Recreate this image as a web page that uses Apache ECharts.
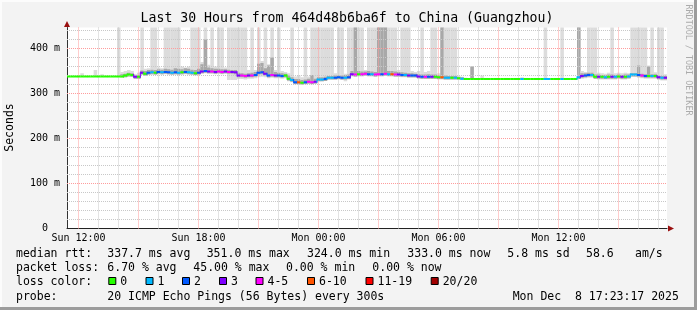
<!DOCTYPE html>
<html><head><meta charset="utf-8">
<script src="https://cdn.jsdelivr.net/npm/echarts@6/dist/echarts.min.js"></script>
<style>html,body{margin:0;padding:0;background:#f3f3f3;}#c{width:697px;height:310px;}</style>
</head><body><div id="c"></div>
<script>
// ---- data (10-minute bins, 30 hours, starting Sun 11:25) ----
const startHour = 11.425;       // hours since Sun 00:00
const binHours = 1 / 6;
const med = [
 338,338,338,338,338,338,338,338,338,338,
 338,338,338,338,338,338,338,340,342,341,
 337,337,346,344,346,347,346,348,347,348,
 347,346,347,346,347,348,347,346,345,346,
 349,350,349,349,348,349,348,349,348,348,
 347,340,340,339,340,340,341,346,347,344,
 340,341,340,340,339,340,333,330,325,325,
 324,325,326,325,326,331,331,332,335,335,
 335,336,335,335,336,343,342,343,343,344,
 343,343,342,343,343,344,343,343,342,342,
 341,341,340,340,340,338,337,337,337,337,
 337,336,336,335,335,335,335,334,333,332,
 332,332,332,332,332,332,332,332,332,332,
 332,332,332,332,332,332,332,332,332,332,
 332,332,332,332,332,332,332,332,332,332,
 332,332,332,336,339,340,341,341,337,337,
 337,336,337,337,337,338,337,337,338,342,
 342,341,340,339,339,339,339,336,335,335];
const loss = [
 0,0,0,0,0,0,0,0,0,0,
 0,0,0,0,0,0,0,0,0,0,
 3,0,3,0,2,1,0,2,1,2,
 2,1,2,1,0,2,1,1,0,2,
 3,2,3,4,3,4,4,3,4,3,
 3,3,4,4,3,4,2,2,2,3,
 2,4,3,2,2,0,0,1,2,5,
 0,2,4,4,3,1,1,2,1,1,
 2,2,2,1,2,3,4,0,4,4,
 2,1,4,4,2,4,1,5,4,3,
 2,1,3,2,2,3,2,4,2,3,
 0,0,5,1,1,0,1,0,1,0,
 0,0,0,0,0,0,0,0,0,0,
 0,0,0,0,0,0,1,0,0,0,
 0,0,0,1,1,0,0,0,1,0,
 0,0,0,1,3,2,2,1,0,3,
 0,1,0,3,1,0,3,0,1,1,
 1,2,4,2,0,1,0,3,1,3];
const smokeLo = [
 338,338,338,338,338,338,338,338,338,338,
 338,338,338,338,338,338,336,336,338,337,
 333,333,341,339,341,342,341,343,342,343,
 342,341,342,341,342,343,342,341,340,341,
 344,345,344,344,343,344,343,344,330,330,
 330,332,332,331,333,333,334,336,337,336,
 334,335,334,334,333,334,327,325,320,320,
 319,320,321,320,321,327,327,328,331,331,
 331,331,330,327,331,338,337,338,338,339,
 338,338,337,338,338,339,338,338,337,337,
 336,336,335,335,335,333,332,332,332,332,
 332,331,331,331,331,331,331,331,330,330,
 332,332,332,332,332,332,332,332,332,332,
 332,332,332,332,332,332,332,332,332,332,
 332,332,332,332,332,332,332,332,332,332,
 332,332,332,332,333,334,335,335,332,331,
 331,331,331,331,331,332,331,331,332,337,
 337,335,334,333,333,333,333,330,329,329];
const smokeDark = [
 338,338,338,338,338,338,338,338,338,338,
 338,338,338,338,338,338,343,344,346,345,
 340,341,351,350,352,353,352,354,353,355,
 354,353,356,355,354,356,355,353,352,355,
 365,420,358,356,355,355,354,354,353,352,
 352,346,345,344,345,346,348,366,368,356,
 362,380,348,346,345,344,340,336,332,332,
 330,331,333,341,333,336,336,337,339,339,
 340,341,340,341,342,350,460,350,349,349,
 350,349,348,460,460,460,350,350,349,348,
 347,346,345,345,344,343,342,342,343,342,
 342,341,460,340,339,339,339,337,336,334,
 332,360,332,332,332,332,332,332,332,332,
 332,332,332,332,332,332,332,332,332,332,
 332,332,332,332,332,332,332,332,332,332,
 332,332,332,460,345,345,346,346,342,342,
 341,341,342,342,341,342,341,342,342,345,
 345,362,344,343,360,343,343,340,339,339];
const smokeHi = [
 338,338,338,338,345,338,338,338,352,338,
 343,338,338,338,338,460,348,350,352,350,
 343,346,460,355,356,460,460,358,356,460,
 460,460,460,460,360,358,360,460,460,460,
 370,460,364,460,360,460,460,358,460,460,
 460,460,460,460,352,460,352,460,372,460,
 365,460,352,460,350,348,345,460,338,340,
 336,460,338,460,460,460,460,460,460,460,
 345,460,460,344,460,460,460,460,460,352,
 460,460,460,460,460,460,460,460,460,352,
 460,460,460,350,348,350,460,348,350,460,
 460,345,460,460,460,460,460,338,337,335,
 332,360,332,332,340,332,332,332,332,332,
 332,332,332,332,332,332,336,332,332,332,
 332,332,332,460,332,332,332,332,460,332,
 332,332,332,460,350,348,460,460,460,346,
 345,344,346,460,345,346,345,346,345,460,
 460,460,460,460,362,460,347,460,460,343];
const lossColors = ['#26ff00','#00b8ff','#0059ff','#7e00ff','#ff00ff','#ff5500','#ff0000','#a10000'];
const lossLabels = ['0','1','2','3','4-5','6-10','11-19','20/20'];
const xTickValues = [12, 18, 24, 30, 36];
const xTickLabels = ['Sun 12:00','Sun 18:00','Mon 00:00','Mon 06:00','Mon 12:00'];
const minorHours = [13,14,16,17,19,20,22,23,25,26,28,29,31,32,34,35,37,38,40,41];
const majorHours = [12,15,18,21,24,27,30,33,36,39];
const minorMs = [20,40,60,80,120,140,160,180,220,240,260,280,320,340,360,380,420,440];
const majorMs = [100,200,300,400];
const yMax = 446.67;

const FONT = '"DejaVu Sans Mono", "Liberation Mono", monospace';
const chart = echarts.init(document.getElementById('c'), null, {renderer: 'canvas'});

const smokeData = med.map((m, i) => [startHour + i * binHours, startHour + (i + 1) * binHours, smokeLo[i], smokeDark[i], smokeHi[i], m]);
const medData = med.map((m, i) => [startHour + i * binHours, startHour + (i + 1) * binHours, m, loss[i], i > 0 ? med[i - 1] : m]);

function gridMarkLine(hours, values, color) {
  return {
    silent: true, symbol: ['none', 'none'], animation: false,
    label: {show: false}, emphasis: {disabled: true},
    lineStyle: {color: color, width: 1, type: [1, 1], opacity: 1},
    data: hours.map(h => ({xAxis: h})).concat(values.map(v => ({yAxis: v})))
  };
}

const texts = [];
function txt(x, y, s, size, extra) {
  texts.push(Object.assign({type: 'text', x: x, y: y, silent: true,
    style: Object.assign({text: s, fontSize: size, fontFamily: FONT, fill: '#000',
      align: 'left', verticalAlign: 'middle', textAlign: 'left', textVerticalAlign: 'middle'}, extra && extra.style || {})},
    extra && extra.el || {}));
}
txt(347, 19, 'Last 30 Hours from 464d48b6ba6f to China (Guangzhou)', 13.2, {style: {align: 'center', textAlign: 'center'}});
txt(10, 127.5, 'Seconds', 11.5, {style: {align: 'center', textAlign: 'center'}, el: {rotation: Math.PI / 2}});
txt(688, 60, 'RRDTOOL / TOBI OETIKER', 8.4, {style: {align: 'center', textAlign: 'center', fill: '#ababab'}, el: {rotation: -Math.PI / 2}});
const L = 11.5;
txt(16, 254, 'median rtt:', L);
txt(107.3, 254, '337.7 ms avg', L);
txt(206.7, 254, '351.0 ms max', L);
txt(307, 254, '324.0 ms min', L);
txt(407.3, 254, '333.0 ms now', L);
txt(507.3, 254, '5.8 ms sd', L);
txt(586, 254, '58.6', L);
txt(635, 254, 'am/s', L);
txt(16, 268.3, 'packet loss:', L);
txt(107.3, 268.3, '6.70 % avg', L);
txt(193.3, 268.3, '45.00 % max', L);
txt(286, 268.3, '0.00 % min', L);
txt(372.3, 268.3, '0.00 % now', L);
txt(16, 281.7, 'loss color:', L);
const sqX = [108.3, 145.5, 182, 219, 255.5, 307, 365.5, 430.7];
lossLabels.forEach((lab, k) => {
  texts.push({type: 'rect', silent: true, shape: {x: sqX[k] + 0.5, y: 277.5, width: 7, height: 7},
    style: {fill: lossColors[k], stroke: '#000', lineWidth: 1}});
  txt(sqX[k] + 12, 281.7, lab, L);
});
txt(16, 296.7, 'probe:', L);
txt(107.3, 296.7, '20 ICMP Echo Pings (56 Bytes) every 300s', L);
txt(512.7, 296.7, 'Mon Dec  8 17:23:17 2025', L);
texts.push({type: 'polygon', silent: true, shape: {points: [[64, 27], [70, 27], [67, 21]]}, style: {fill: '#9a1010'}});
texts.push({type: 'polygon', silent: true, shape: {points: [[668, 225.5], [668, 231.5], [674, 228.5]]}, style: {fill: '#9a1010'}});
texts.push({type: 'rect', silent: true, shape: {x: 0, y: 0, width: 697, height: 2}, style: {fill: '#fcfcfc'}});
texts.push({type: 'rect', silent: true, shape: {x: 0, y: 0, width: 2, height: 310}, style: {fill: '#fcfcfc'}});
texts.push({type: 'rect', silent: true, shape: {x: 0, y: 307, width: 697, height: 3}, style: {fill: '#9c9c9c'}});
texts.push({type: 'rect', silent: true, shape: {x: 694, y: 0, width: 3, height: 310}, style: {fill: '#9c9c9c'}});

const option = {
  animation: false,
  backgroundColor: '#f3f3f3',
  grid: {left: 67, right: 30, top: 27.5, bottom: 81.5, show: true, backgroundColor: '#ffffff', borderWidth: 0},
  xAxis: {
    type: 'value', min: startHour, max: startHour + 30,
    axisLine: {show: true, lineStyle: {color: '#222', width: 1}},
    axisTick: {show: false},
    splitLine: {show: false},
    axisLabel: {
      show: true, customValues: xTickValues, margin: 5,
      fontFamily: FONT, fontSize: 10, color: '#000',
      formatter: v => { const k = xTickValues.indexOf(Math.round(v)); return k >= 0 ? xTickLabels[k] : ''; }
    }
  },
  yAxis: {
    type: 'value', min: 0, max: yMax, interval: 100,
    axisLine: {show: true, lineStyle: {color: '#333', width: 1}},
    axisTick: {show: false},
    splitLine: {show: false},
    axisLabel: {
      margin: 7, fontFamily: FONT, fontSize: 10, color: '#000',
      formatter: v => (v % 100 !== 0 ? '' : (v === 0 ? '0  ' : v + ' m'))
    }
  },
  graphic: {elements: texts},
  series: [
    {
      type: 'custom', z: 1, clip: true, data: smokeData, encode: {x: [0, 1], y: [2, 4]},
      markLine: gridMarkLine(minorHours, minorMs, '#c8c8c8'),
      renderItem: function (params, api) {
        const x0 = api.coord([api.value(0), 0])[0];
        const x1 = api.coord([api.value(1), 0])[0];
        const yLo = api.coord([0, api.value(2)])[1];
        const yDark = api.coord([0, api.value(3)])[1];
        const yHi = api.coord([0, api.value(4)])[1];
        const yDarkLo = api.coord([0, Math.max(api.value(2), api.value(5) - 4)])[1];
        const ch = [];
        if (yLo - yHi > 0.5) ch.push({type: 'rect', shape: {x: x0, y: yHi, width: x1 - x0 + 0.2, height: yLo - yHi}, style: {fill: '#dcdcdc'}});
        if (yDarkLo - yDark > 0.5) ch.push({type: 'rect', shape: {x: x0, y: yDark, width: x1 - x0 + 0.2, height: yDarkLo - yDark}, style: {fill: '#a8a8a8'}});
        return {type: 'group', children: ch};
      }
    },
    {
      type: 'custom', z: 8, clip: true, data: medData, encode: {x: [0, 1], y: 2},
      markLine: gridMarkLine(majorHours, majorMs, '#ff9c9c'),
      renderItem: function (params, api) {
        const x0 = api.coord([api.value(0), 0])[0];
        const x1 = api.coord([api.value(1), 0])[0];
        const y = api.coord([0, api.value(2)])[1];
        const yp = api.coord([0, api.value(4)])[1];
        const col = lossColors[api.value(3)];
        const ch = [{type: 'rect', shape: {x: x0, y: y - 1, width: x1 - x0 + 0.2, height: 2}, style: {fill: col}}];
        if (Math.abs(yp - y) > 0.5) ch.push({type: 'rect', shape: {x: x0 - 0.5, y: Math.min(yp, y) - 1, width: 1, height: Math.abs(yp - y) + 2}, style: {fill: col}});
        return {type: 'group', children: ch};
      }
    }
  ]
};
chart.setOption(option);
</script></body></html>
